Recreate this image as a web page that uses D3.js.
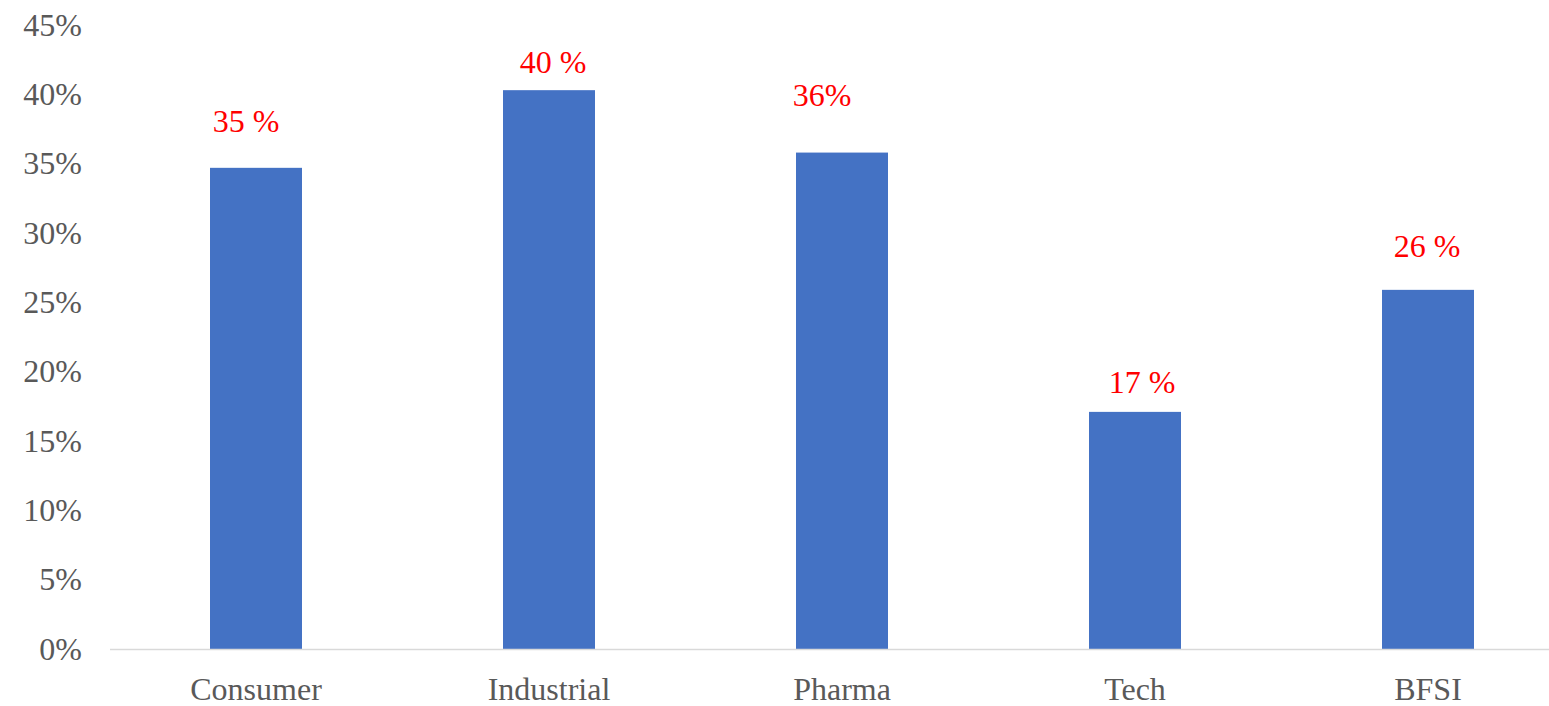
<!DOCTYPE html>
<html>
<head>
<meta charset="utf-8">
<script src="https://cdn.jsdelivr.net/npm/d3@7"></script>
<style>
  body { margin: 0; background: #fff; }
</style>
</head>
<body>
<div id="container"></div>
<script>
// data
let sectors = ["Consumer", "Industrial", "Pharma", "Tech", "BFSI"];
let shares = [0.347, 0.403, 0.358, 0.171, 0.259];
let labels = ["35 %", "40 %", "36%", "17 %", "26 %"];
let yTicks = [0, 0.05, 0.10, 0.15, 0.20, 0.25, 0.30, 0.35, 0.40, 0.45];

let w = 1549;
let h = 706;
let font = "Liberation Serif, DejaVu Serif, serif";

let viz = d3.select("#container").append("svg")
    .attr("width", w)
    .attr("height", h);

let x = d3.scaleBand()
    .domain(sectors)
    .range([109.5, 1574.5])
    .paddingInner(0.686)
    .paddingOuter(0.343);

let y = d3.scaleLinear()
    .domain([0, 0.45])
    .range([649, 25]);

// y tick labels, no axis line
let yAxis = viz.append("g")
    .attr("transform", "translate(82,0)")
    .call(d3.axisLeft(y).tickValues(yTicks).tickSize(0).tickPadding(0)
      .tickFormat(d3.format(".0%")));
yAxis.select(".domain").remove();
yAxis.selectAll("text")
    .attr("font-family", font)
    .attr("font-size", 32)
    .attr("fill", "#595959");

// bars
viz.append("g").selectAll("rect")
    .data(sectors)
    .join("rect")
    .attr("x", d => x(d))
    .attr("y", (d, i) => y(shares[i]))
    .attr("width", x.bandwidth())
    .attr("height", (d, i) => y(0) - y(shares[i]))
    .attr("fill", "#4472c4");

// x axis
let xAxis = viz.append("g")
    .attr("transform", "translate(0," + y(0) + ")")
    .call(d3.axisBottom(x).tickSize(0));
xAxis.select(".domain")
    .attr("stroke", "#d9d9d9")
    .attr("stroke-width", 1.5);
xAxis.selectAll("text")
    .attr("y", 51)
    .attr("dy", 0)
    .attr("font-family", font)
    .attr("font-size", 32)
    .attr("fill", "#595959");

// data labels were hand-placed in the original, so nudge each one
let nudgeX = [-10, 4, -20, 7, -1];
let nudgeY = [36, 17, 47, 19, 33];
viz.append("g").selectAll("text")
    .data(sectors)
    .join("text")
    .attr("x", (d, i) => x(d) + x.bandwidth() / 2 + nudgeX[i])
    .attr("y", (d, i) => y(shares[i]) - nudgeY[i])
    .attr("text-anchor", "middle")
    .attr("font-family", font)
    .attr("font-size", 32)
    .attr("fill", "#ff0000")
    .text((d, i) => labels[i]);
</script>
</body>
</html>
